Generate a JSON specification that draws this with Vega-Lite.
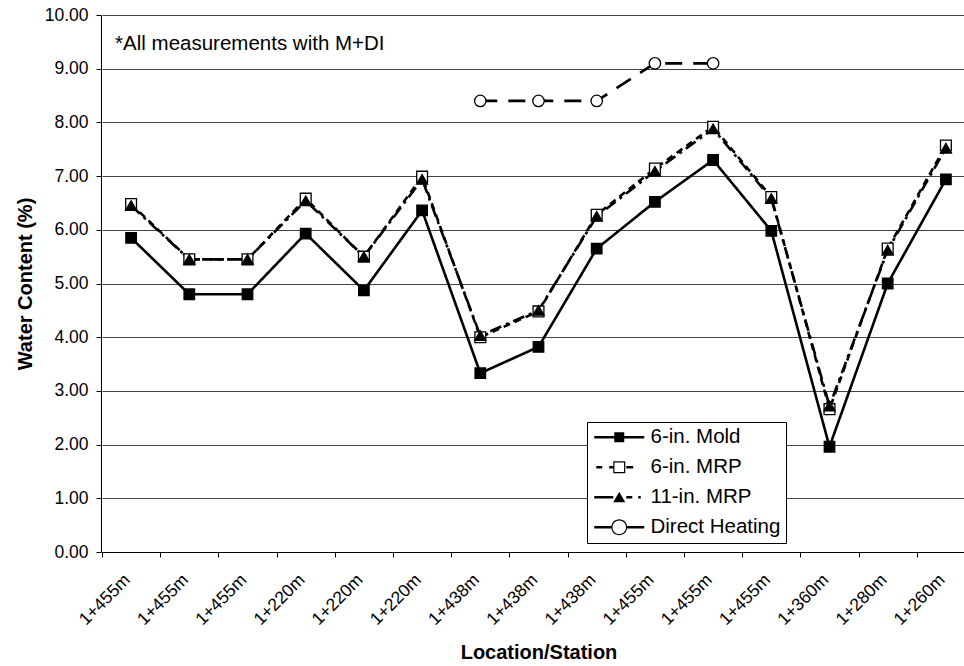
{
  "$schema": "https://vega.github.io/schema/vega-lite/v6.json",
  "width": 863,
  "height": 537,
  "autosize": "none",
  "padding": {"left": 101, "top": 15, "right": 0, "bottom": 114},
  "background": "white",
  "config": {"view": {"stroke": null}, "font": "Liberation Sans"},
  "datasets": {
    "notes": [{"note": "*All measurements with M+DI", "idx": 1, "value": 9.35}],
    "measurements": [
      {"series": "6-in. Mold", "idx": 1, "value": 5.85},
      {"series": "6-in. Mold", "idx": 2, "value": 4.80},
      {"series": "6-in. Mold", "idx": 3, "value": 4.80},
      {"series": "6-in. Mold", "idx": 4, "value": 5.93},
      {"series": "6-in. Mold", "idx": 5, "value": 4.87},
      {"series": "6-in. Mold", "idx": 6, "value": 6.36},
      {"series": "6-in. Mold", "idx": 7, "value": 3.33},
      {"series": "6-in. Mold", "idx": 8, "value": 3.82},
      {"series": "6-in. Mold", "idx": 9, "value": 5.65},
      {"series": "6-in. Mold", "idx": 10, "value": 6.52},
      {"series": "6-in. Mold", "idx": 11, "value": 7.30},
      {"series": "6-in. Mold", "idx": 12, "value": 5.98},
      {"series": "6-in. Mold", "idx": 13, "value": 1.96},
      {"series": "6-in. Mold", "idx": 14, "value": 5.00},
      {"series": "6-in. Mold", "idx": 15, "value": 6.94},
      {"series": "6-in. MRP", "idx": 1, "value": 6.48},
      {"series": "6-in. MRP", "idx": 2, "value": 5.45},
      {"series": "6-in. MRP", "idx": 3, "value": 5.45},
      {"series": "6-in. MRP", "idx": 4, "value": 6.58},
      {"series": "6-in. MRP", "idx": 5, "value": 5.50},
      {"series": "6-in. MRP", "idx": 6, "value": 6.99},
      {"series": "6-in. MRP", "idx": 7, "value": 4.00},
      {"series": "6-in. MRP", "idx": 8, "value": 4.48},
      {"series": "6-in. MRP", "idx": 9, "value": 6.28},
      {"series": "6-in. MRP", "idx": 10, "value": 7.14},
      {"series": "6-in. MRP", "idx": 11, "value": 7.92},
      {"series": "6-in. MRP", "idx": 12, "value": 6.61},
      {"series": "6-in. MRP", "idx": 13, "value": 2.66},
      {"series": "6-in. MRP", "idx": 14, "value": 5.65},
      {"series": "6-in. MRP", "idx": 15, "value": 7.57},
      {"series": "11-in. MRP", "idx": 1, "value": 6.45},
      {"series": "11-in. MRP", "idx": 2, "value": 5.45},
      {"series": "11-in. MRP", "idx": 3, "value": 5.45},
      {"series": "11-in. MRP", "idx": 4, "value": 6.54},
      {"series": "11-in. MRP", "idx": 5, "value": 5.50},
      {"series": "11-in. MRP", "idx": 6, "value": 6.94},
      {"series": "11-in. MRP", "idx": 7, "value": 4.03},
      {"series": "11-in. MRP", "idx": 8, "value": 4.50},
      {"series": "11-in. MRP", "idx": 9, "value": 6.25},
      {"series": "11-in. MRP", "idx": 10, "value": 7.09},
      {"series": "11-in. MRP", "idx": 11, "value": 7.88},
      {"series": "11-in. MRP", "idx": 12, "value": 6.58},
      {"series": "11-in. MRP", "idx": 13, "value": 2.72},
      {"series": "11-in. MRP", "idx": 14, "value": 5.62},
      {"series": "11-in. MRP", "idx": 15, "value": 7.52},
      {"series": "Direct Heating", "idx": 7, "value": 8.40},
      {"series": "Direct Heating", "idx": 8, "value": 8.40},
      {"series": "Direct Heating", "idx": 9, "value": 8.40},
      {"series": "Direct Heating", "idx": 10, "value": 9.10},
      {"series": "Direct Heating", "idx": 11, "value": 9.10}
    ]
  },
  "data": {"name": "measurements"},
  "encoding": {
    "x": {
      "field": "idx",
      "type": "ordinal",
      "scale": {"type": "band", "range": [1, 874], "paddingInner": 0, "paddingOuter": 0},
      "axis": {
        "title": "Location/Station",
        "titleFont": "Liberation Sans",
        "titleFontSize": 20,
        "titleFontWeight": "bold",
        "titleColor": "black",
        "titleBaseline": "alphabetic",
        "titleY": 106,
        "labelExpr": "['1+455m','1+455m','1+455m','1+220m','1+220m','1+220m','1+438m','1+438m','1+438m','1+455m','1+455m','1+455m','1+360m','1+280m','1+260m'][datum.value - 1]",
        "labelAngle": -45,
        "labelAlign": "right",
        "labelBaseline": "middle",
        "labelFont": "Liberation Sans",
        "labelFontSize": 17.5,
        "labelColor": "black",
        "labelPadding": 20,
        "labelOffset": -4,
        "labelOverlap": false,
        "labelBound": false,
        "tickBand": "extent",
        "tickSize": 5,
        "tickColor": "black",
        "domainColor": "black",
        "grid": false
      }
    },
    "y": {
      "field": "value",
      "type": "quantitative",
      "scale": {"domain": [0, 10], "nice": false},
      "axis": {
        "title": "Water Content (%)",
        "titleFont": "Liberation Sans",
        "titleFontSize": 20,
        "titleFontWeight": "bold",
        "titleColor": "black",
        "titleBaseline": "alphabetic",
        "titleX": -70,
        "values": [0, 1, 2, 3, 4, 5, 6, 7, 8, 9, 10],
        "format": ".2f",
        "labelFont": "Liberation Sans",
        "labelFontSize": 17.5,
        "labelColor": "black",
        "labelPadding": 8,
        "tickSize": 5,
        "tickColor": "black",
        "domainColor": "black",
        "grid": true,
        "gridColor": "#444444",
        "gridWidth": 1
      }
    }
  },
  "layer": [
    {
      "mark": {"type": "line", "strokeWidth": 2.6, "color": "black"},
      "encoding": {
        "detail": {"field": "series", "type": "nominal"},
        "strokeDash": {
          "field": "series",
          "type": "nominal",
          "scale": {
            "domain": ["6-in. Mold", "6-in. MRP", "11-in. MRP", "Direct Heating"],
            "range": [[1, 0], [7, 5], [12, 5, 3, 5], [17, 11]]
          },
          "legend": null
        }
      }
    },
    {
      "mark": {"type": "point", "filled": true, "stroke": "black", "strokeWidth": 1.3, "opacity": 1},
      "encoding": {
        "shape": {
          "field": "series",
          "type": "nominal",
          "scale": {
            "domain": ["6-in. Mold", "6-in. MRP", "11-in. MRP", "Direct Heating"],
            "range": ["square", "square", "triangle-up", "circle"]
          },
          "legend": null
        },
        "fill": {
          "field": "series",
          "type": "nominal",
          "scale": {
            "domain": ["6-in. Mold", "6-in. MRP", "11-in. MRP", "Direct Heating"],
            "range": ["black", "white", "black", "white"]
          },
          "legend": null
        },
        "size": {
          "field": "series",
          "type": "nominal",
          "scale": {
            "domain": ["6-in. Mold", "6-in. MRP", "11-in. MRP", "Direct Heating"],
            "range": [110, 130, 105, 230]
          },
          "legend": null
        }
      }
    },
    {
      "transform": [{"filter": "false"}],
      "mark": {"type": "point", "filled": true, "color": "black"},
      "encoding": {
        "shape": {
          "field": "series",
          "type": "nominal",
          "scale": {
            "domain": ["6-in. Mold", "6-in. MRP", "11-in. MRP", "Direct Heating"],
            "range": [
              "M-25,-1.25H25V1.25H-25Z M-5,-5H5V5H-5Z",
              "M-23,-1.25H-17V1.25H-23Z M-10,-1.25H-6V1.25H-10Z M7,-1.25H14V1.25H7Z M-6,-6H6V6H-6Z M-4.8,-4.8V4.8H4.8V-4.8Z",
              "M-25,-1.25H-6V1.25H-25Z M0,-5.5L6,5H-6Z M7,-1.25H13V1.25H7Z M19,-1.25H21.5V1.25H19Z",
              "M-25,-1.25H-8V1.25H-25Z M8,-1.25H25V1.25H8Z M-8,0A8,8 0 1,0 8,0A8,8 0 1,0 -8,0Z M-6.8,0A6.8,6.8 0 1,1 6.8,0A6.8,6.8 0 1,1 -6.8,0Z"
            ]
          },
          "legend": {
            "title": null,
            "orient": "none",
            "legendX": 486,
            "legendY": 407,
            "fillColor": "white",
            "strokeColor": "black",
            "padding": 5,
            "rowPadding": 9,
            "symbolSize": 4,
            "symbolOffset": 17,
            "symbolFillColor": "black",
            "symbolStrokeWidth": 0,
            "symbolStrokeColor": "transparent",
            "symbolOpacity": 1,
            "labelOffset": 21,
            "labelFont": "Liberation Sans",
            "labelFontSize": 20.5,
            "labelColor": "black",
            "labelLimit": 300
          }
        }
      }
    },
    {
      "data": {"name": "notes"},
      "mark": {"type": "text", "align": "left", "baseline": "alphabetic", "dx": -16, "font": "Liberation Sans", "fontSize": 20.5, "fill": "black"},
      "encoding": {
        "text": {"field": "note", "type": "nominal"}
      }
    }
  ],
  "resolve": {"scale": {"shape": "independent"}}
}
